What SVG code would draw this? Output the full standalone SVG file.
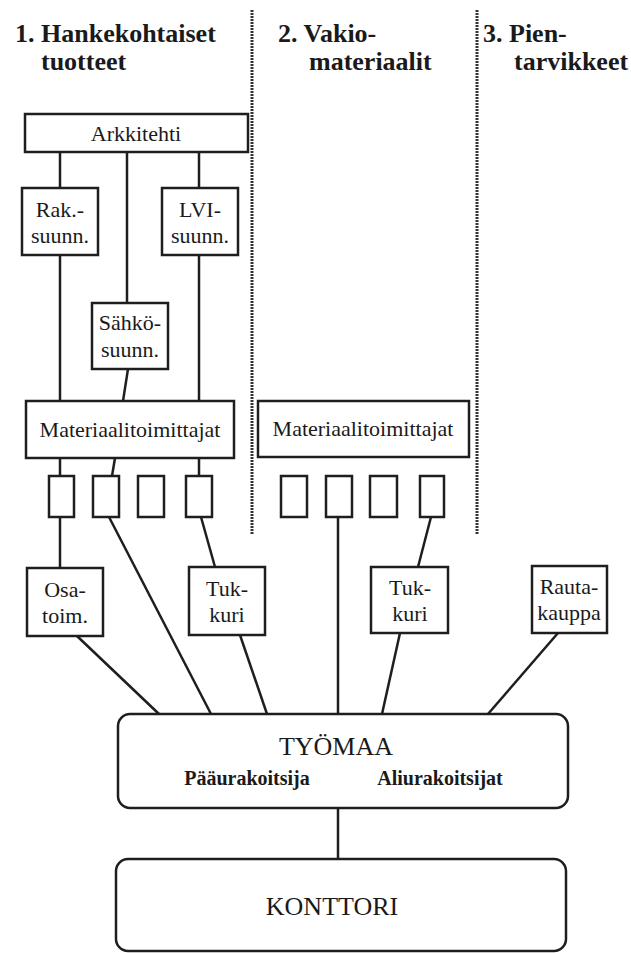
<svg xmlns="http://www.w3.org/2000/svg" width="631" height="953" viewBox="0 0 631 953">
<style>
.bx{fill:#fff;stroke:#1e1e1e;stroke-width:2.5}
.ln{stroke:#1e1e1e;stroke-width:2.5;fill:none}
.dv{stroke:#333;stroke-width:3;stroke-dasharray:2 1;fill:none}
.hd{font-family:"Liberation Serif",serif;font-weight:bold;font-size:26px;fill:#1a1a1a}
.t{font-family:"Liberation Serif",serif;font-size:22px;fill:#1a1a1a;text-anchor:middle}
.tb{font-family:"Liberation Serif",serif;font-size:20px;font-weight:bold;fill:#1a1a1a;text-anchor:middle}
.tl{font-family:"Liberation Serif",serif;font-size:26px;fill:#1a1a1a;text-anchor:middle}
</style>
<rect width="631" height="953" fill="#fff"/>
<g id="headers">
<text class="hd" x="15" y="42">1. Hankekohtaiset</text>
<text class="hd" x="41" y="70">tuotteet</text>
<text class="hd" x="278" y="42">2. Vakio-</text>
<text class="hd" x="309" y="70">materiaalit</text>
<text class="hd" x="483" y="42">3. Pien-</text>
<text class="hd" x="514" y="70">tarvikkeet</text>
</g>
<g id="dividers">
<line class="dv" x1="252" y1="10" x2="252" y2="534"/>
<line class="dv" x1="477" y1="10" x2="477" y2="534"/>
</g>
<g id="connectors">
<line class="ln" x1="60" y1="152" x2="60" y2="188"/>
<line class="ln" x1="127" y1="152" x2="127" y2="303"/>
<line class="ln" x1="199" y1="152" x2="199" y2="188"/>
<line class="ln" x1="60" y1="255" x2="60" y2="401"/>
<line class="ln" x1="199" y1="255" x2="199" y2="401"/>
<line class="ln" x1="128" y1="369" x2="123" y2="401"/>
<line class="ln" x1="60" y1="458" x2="60" y2="476"/>
<line class="ln" x1="115" y1="458" x2="112" y2="476"/>
<line class="ln" x1="199" y1="458" x2="199" y2="476"/>
<line class="ln" x1="60" y1="517" x2="60" y2="568"/>
<line class="ln" x1="109" y1="517" x2="211" y2="714"/>
<line class="ln" x1="201" y1="517" x2="215" y2="567"/>
<line class="ln" x1="338" y1="517" x2="338" y2="714"/>
<line class="ln" x1="431" y1="517" x2="418" y2="567"/>
<line class="ln" x1="77" y1="636" x2="159" y2="714"/>
<line class="ln" x1="240" y1="635" x2="267" y2="714"/>
<line class="ln" x1="400" y1="633" x2="382" y2="714"/>
<line class="ln" x1="558" y1="633" x2="488" y2="714"/>
<line class="ln" x1="338" y1="808" x2="338" y2="859"/>
</g>
<g id="arkkitehti"><rect class="bx" x="25" y="114" width="223" height="38"/><text class="t" x="136" y="141">Arkkitehti</text></g>
<g id="rak"><rect class="bx" x="22" y="188" width="76" height="67"/><text class="t" x="60" y="217">Rak.-</text><text class="t" x="60" y="243">suunn.</text></g>
<g id="lvi"><rect class="bx" x="162" y="188" width="76" height="67"/><text class="t" x="200" y="217">LVI-</text><text class="t" x="200" y="243">suunn.</text></g>
<g id="sahko"><rect class="bx" x="92" y="303" width="76" height="66"/><text class="t" x="130" y="330">Sähkö-</text><text class="t" x="130" y="357">suunn.</text></g>
<g id="mat1"><rect class="bx" x="26" y="401" width="208" height="57"/><text class="t" x="130" y="437">Materiaalitoimittajat</text></g>
<g id="mat2"><rect class="bx" x="258" y="401" width="211" height="56"/><text class="t" x="363" y="436">Materiaalitoimittajat</text></g>
<g id="s1"><rect class="bx" x="49" y="476" width="25" height="41"/></g>
<g id="s2"><rect class="bx" x="93" y="476" width="26" height="41"/></g>
<g id="s3"><rect class="bx" x="138" y="476" width="26" height="41"/></g>
<g id="s4"><rect class="bx" x="186" y="476" width="26" height="41"/></g>
<g id="s5"><rect class="bx" x="281" y="476" width="26" height="41"/></g>
<g id="s6"><rect class="bx" x="326" y="476" width="26" height="41"/></g>
<g id="s7"><rect class="bx" x="370" y="476" width="27" height="41"/></g>
<g id="s8"><rect class="bx" x="420" y="476" width="24" height="41"/></g>
<g id="osa"><rect class="bx" x="27" y="568" width="76" height="68"/><text class="t" x="65" y="597">Osa-</text><text class="t" x="65" y="623">toim.</text></g>
<g id="tukkuri1"><rect class="bx" x="189" y="567" width="76" height="68"/><text class="t" x="227" y="596">Tuk-</text><text class="t" x="227" y="622">kuri</text></g>
<g id="tukkuri2"><rect class="bx" x="371" y="567" width="77" height="66"/><text class="t" x="410" y="595">Tuk-</text><text class="t" x="410" y="621">kuri</text></g>
<g id="rautakauppa"><rect class="bx" x="532" y="566" width="75" height="67"/><text class="t" x="569" y="594">Rauta-</text><text class="t" x="569" y="620">kauppa</text></g>
<g id="tyomaa"><rect class="bx" x="118" y="714" width="450" height="94" rx="12"/><text class="tl" x="336" y="755">TYÖMAA</text><text class="tb" x="247" y="785">Pääurakoitsija</text><text class="tb" x="440" y="785">Aliurakoitsijat</text></g>
<g id="konttori"><rect class="bx" x="116" y="859" width="450" height="92" rx="12"/><text class="tl" x="332" y="915">KONTTORI</text></g>
</svg>
